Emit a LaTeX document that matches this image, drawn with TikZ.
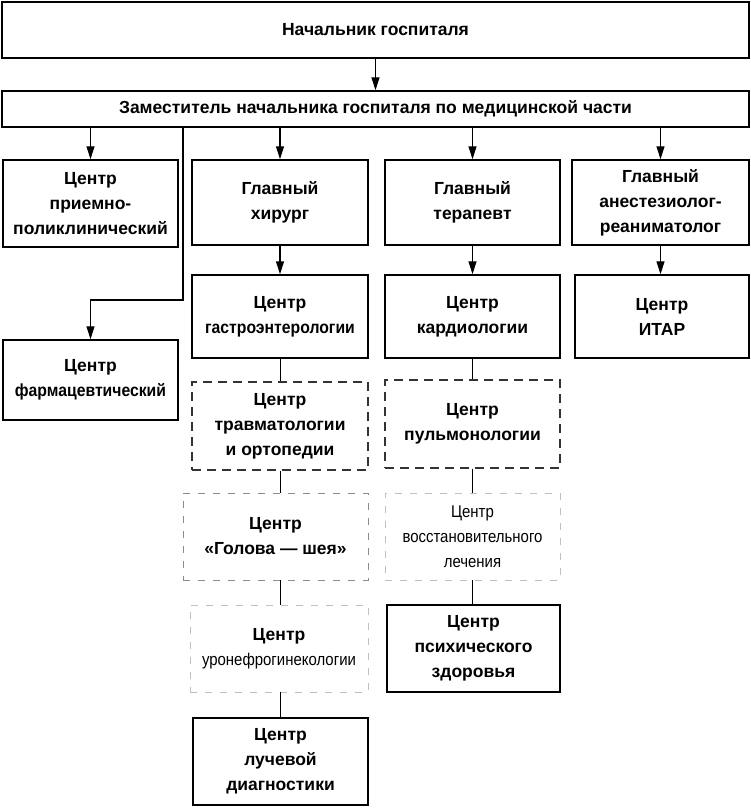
\documentclass[tikz,border=0pt]{standalone}
\usepackage{fontspec}
\setmainfont{Liberation Sans}
\newfontfamily\narrowfont{Liberation Sans}[FakeStretch=0.88]
\newfontfamily\narrowbf{Liberation Sans Bold}[FakeStretch=0.9]
\usetikzlibrary{arrows.meta}
\begin{document}
\begin{tikzpicture}[x=1pt,y=-1pt,
  box/.style={draw=black,line width=1.5pt,align=center,inner sep=0pt,
    font=\fontsize{17.5}{25}\selectfont\bfseries},
  dbox/.style={box,draw=black!80,dash pattern=on 9pt off 6pt,line width=1.1pt},
  fbox/.style={box,draw=black!45,dash pattern=on 7pt off 8pt,line width=0.9pt},
  arr/.style={line width=1.2pt,-{Triangle[length=13pt,width=8pt]}},
  ln/.style={line width=1pt}]
\useasboundingbox (0,0) rectangle (751,808);
\node[box,minimum width=747pt,minimum height=56pt] (top) at (375.5,30) {Начальник госпиталя};
\node[box,minimum width=747pt,minimum height=36pt] (dep) at (375.5,109) {Заместитель начальника госпиталя по медицинской части};
\node[box,minimum width=175pt,minimum height=87pt] (priem) at (90.5,203.5) {Центр\\приемно-\\поликлинический};
\node[box,minimum width=176pt,minimum height=85pt] (hir) at (280,202.5) {Главный\\хирург};
\node[box,minimum width=175pt,minimum height=85pt] (ter) at (472.5,202.5) {Главный\\терапевт};
\node[box,minimum width=177pt,minimum height=85pt] (anest) at (660.5,202.5) {Главный\\анестезиолог-\\реаниматолог};
\node[box,minimum width=175pt,minimum height=80pt] (farm) at (90.5,380) {Центр\\{\narrowbf фармацевтический}};
\node[box,minimum width=176pt,minimum height=83pt] (gastro) at (280,316.5) {Центр\\{\narrowbf гастроэнтерологии}};
\node[box,minimum width=175pt,minimum height=83pt] (kard) at (472.5,316.5) {Центр\\кардиологии};
\node[box,minimum width=174pt,minimum height=83pt] (itar) at (662,316.5) {Центр\\ИТАР};
\node[dbox,minimum width=176pt,minimum height=88pt] (travm) at (280,426) {Центр\\травматологии\\и ортопедии};
\node[dbox,minimum width=175pt,minimum height=88pt] (pulmo) at (472.5,424) {Центр\\пульмонологии};
\node[fbox,minimum width=185pt,minimum height=87pt] (golova) at (275.5,536.5) {Центр\\«Голова — шея»};
\node[fbox,minimum width=175pt,minimum height=87pt,draw=black!25,
  font=\fontsize{17}{25}\selectfont\narrowfont] (vosst) at (472.5,536.5) {Центр\\восстановительного\\лечения};
\node[fbox,minimum width=178pt,minimum height=87pt,draw=black!25,
  font=\fontsize{17}{25}\selectfont\narrowfont] (urone) at (279,648.5) {{\fontsize{17.5}{25}\selectfont\rmfamily\bfseries Центр}\\уронефрогинекологии};
\node[box,minimum width=173pt,minimum height=87pt] (psih) at (473.5,648.5) {Центр\\психического\\здоровья};
\node[box,minimum width=175pt,minimum height=87pt] (luch) at (280.5,761.5) {Центр\\лучевой\\диагностики};
\coordinate (fa) at (183,300);
\draw[arr] (top.south) -- (dep.north);
\draw[arr] (priem.north |- dep.south) -- (priem.north);
\draw[arr] (hir.north |- dep.south) -- (hir.north);
\draw[arr] (ter.north |- dep.south) -- (ter.north);
\draw[arr] (anest.north |- dep.south) -- (anest.north);
\draw[arr] (dep.south -| fa) -- (fa) -| (farm.north);
\draw[arr] (hir) -- (gastro);
\draw[arr] (ter) -- (kard);
\draw[arr] (anest.south) -- (anest.south |- itar.north);
\draw[ln] (gastro) -- (travm);
\draw[ln] (kard) -- (pulmo);
\draw[ln] (travm.south) -- (travm.south |- golova.north);
\draw[ln] (pulmo) -- (vosst);
\draw[ln] (golova.south -| travm.south) -- (urone.north -| travm.south);
\draw[ln] (vosst.south) -- (vosst.south |- psih.north);
\draw[ln] (urone.south -| travm.south) -- (luch.north -| travm.south);
\end{tikzpicture}
\end{document}
